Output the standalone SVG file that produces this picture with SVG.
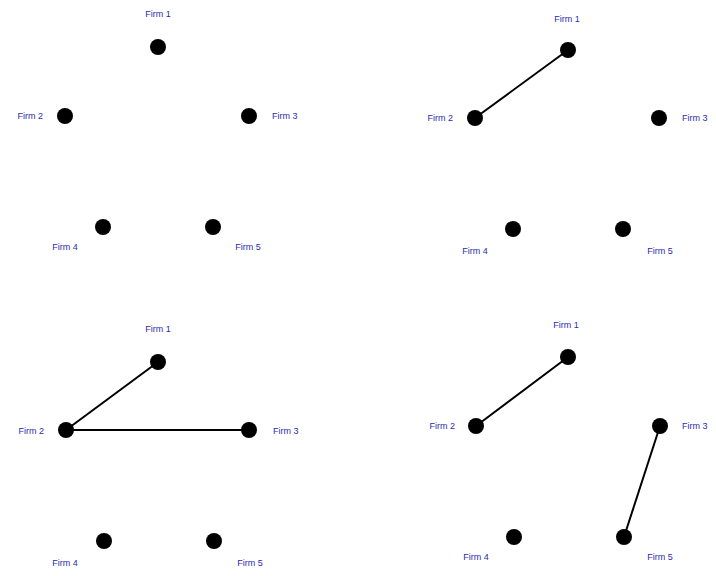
<svg xmlns="http://www.w3.org/2000/svg" width="716" height="576" viewBox="0 0 716 576">
<style>
.n{fill:#000}
.t{font-family:"Liberation Sans",Arial,sans-serif;font-size:9px;fill:#2b2bb0}
.m{text-anchor:middle}
.e{text-anchor:end}
.c{stroke:#000;stroke-width:2;fill:none}
</style>
<rect width="716" height="576" fill="#fff"/>
<g id="connectors">
<line class="c" x1="475" y1="118" x2="568" y2="50"/>
<line class="c" x1="66" y1="430" x2="158" y2="362"/>
<line class="c" x1="66" y1="430" x2="249" y2="430"/>
<line class="c" x1="476" y1="426" x2="568" y2="357"/>
<line class="c" x1="660" y1="426" x2="624" y2="537"/>
</g>
<g id="p1-firm1"><circle class="n" cx="158" cy="47" r="8"/><text class="t m" x="158" y="17">Firm 1</text></g>
<g id="p1-firm2"><circle class="n" cx="65" cy="116" r="8"/><text class="t e" x="43" y="119">Firm 2</text></g>
<g id="p1-firm3"><circle class="n" cx="249" cy="116" r="8"/><text class="t" x="272" y="119">Firm 3</text></g>
<g id="p1-firm4"><circle class="n" cx="103" cy="227" r="8"/><text class="t m" x="65" y="250">Firm 4</text></g>
<g id="p1-firm5"><circle class="n" cx="213" cy="227" r="8"/><text class="t m" x="248" y="250">Firm 5</text></g>
<g id="p2-firm1"><circle class="n" cx="568" cy="50" r="8"/><text class="t m" x="567" y="22">Firm 1</text></g>
<g id="p2-firm2"><circle class="n" cx="475" cy="118" r="8"/><text class="t e" x="453" y="121">Firm 2</text></g>
<g id="p2-firm3"><circle class="n" cx="659" cy="118" r="8"/><text class="t" x="682" y="121">Firm 3</text></g>
<g id="p2-firm4"><circle class="n" cx="513" cy="229" r="8"/><text class="t m" x="475" y="254">Firm 4</text></g>
<g id="p2-firm5"><circle class="n" cx="623" cy="229" r="8"/><text class="t m" x="660" y="254">Firm 5</text></g>
<g id="p3-firm1"><circle class="n" cx="158" cy="362" r="8"/><text class="t m" x="158" y="332">Firm 1</text></g>
<g id="p3-firm2"><circle class="n" cx="66" cy="430" r="8"/><text class="t e" x="44" y="434">Firm 2</text></g>
<g id="p3-firm3"><circle class="n" cx="249" cy="430" r="8"/><text class="t" x="273" y="434">Firm 3</text></g>
<g id="p3-firm4"><circle class="n" cx="104" cy="541" r="8"/><text class="t m" x="65" y="566">Firm 4</text></g>
<g id="p3-firm5"><circle class="n" cx="214" cy="541" r="8"/><text class="t m" x="250" y="566">Firm 5</text></g>
<g id="p4-firm1"><circle class="n" cx="568" cy="357" r="8"/><text class="t m" x="566" y="328">Firm 1</text></g>
<g id="p4-firm2"><circle class="n" cx="476" cy="426" r="8"/><text class="t e" x="455" y="429">Firm 2</text></g>
<g id="p4-firm3"><circle class="n" cx="660" cy="426" r="8"/><text class="t" x="682" y="429">Firm 3</text></g>
<g id="p4-firm4"><circle class="n" cx="514" cy="537" r="8"/><text class="t m" x="476" y="560">Firm 4</text></g>
<g id="p4-firm5"><circle class="n" cx="624" cy="537" r="8"/><text class="t m" x="660" y="560">Firm 5</text></g>
</svg>
